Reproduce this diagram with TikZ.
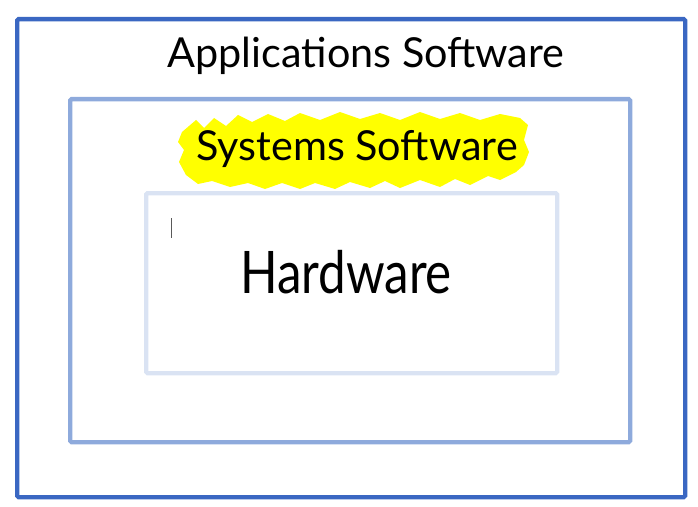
\documentclass[tikz,border=0pt]{standalone}
\usepackage{fontspec}
\setmainfont{Lato}
\usepackage{tikz}
\usetikzlibrary{positioning}

\definecolor{outerblue}{HTML}{3A67C2}
\definecolor{midblue}{HTML}{8EAADC}
\definecolor{innerblue}{HTML}{DAE3F3}
\definecolor{hilite}{HTML}{FFFF00}

\begin{document}
\begin{tikzpicture}[
  x=0.75pt, y=-0.75pt,
  layer/.style={draw, line width=3.2pt, rounded corners=1pt, inner sep=0pt, anchor=north west},
  hand/.style={font=\fontsize{31}{34}\selectfont, inner sep=0pt},
]
\useasboundingbox (0,0) rectangle (698,506);
% nested boxes
\node[layer, draw=outerblue, minimum width=668*0.75pt, minimum height=478*0.75pt] (outer) at (15,17) {};
\node[layer, draw=midblue, minimum width=560*0.75pt, minimum height=343*0.75pt] (middle) at (68,97) {};
\node[layer, draw=innerblue, minimum width=411*0.75pt, minimum height=180*0.75pt] (inner) at (144,191) {};
% yellow marker behind the middle label
\fill[hilite] (182,132) -- (196,120) -- (204,128) -- (214,118) -- (226,126) -- (238,115)
  -- (252,122) -- (268,114) -- (285,121) -- (300,113) -- (320,120) -- (340,112)
  -- (360,119) -- (380,113) -- (400,120) -- (420,112) -- (440,119) -- (460,113)
  -- (480,120) -- (500,114) -- (520,118) -- (528,125) -- (524,140) -- (529,152)
  -- (524,165) -- (516,172) -- (500,180) -- (488,176) -- (470,185) -- (455,179)
  -- (440,187) -- (420,180) -- (400,188) -- (385,181) -- (370,188) -- (350,182)
  -- (335,189) -- (315,183) -- (300,189) -- (282,183) -- (265,189) -- (248,183)
  -- (230,187) -- (212,181) -- (198,184) -- (186,175) -- (179,162) -- (184,150)
  -- (178,142) -- cycle;
% labels
\node[hand] (app) at (366,56) {Applications Software};
\node[hand] (sys) at (357,149) {Systems Software};
\node[hand, font=\fontsize{44}{50}\selectfont, xscale=0.84, transform shape] (hw) at (346,272) {Hardware};
% text cursor
\coordinate (curtop) at (171,218);
\coordinate (curbot) at (171,238);
\draw[gray!70!black, line width=0.6pt] (curtop) -- (curbot);
\end{tikzpicture}
\end{document}
